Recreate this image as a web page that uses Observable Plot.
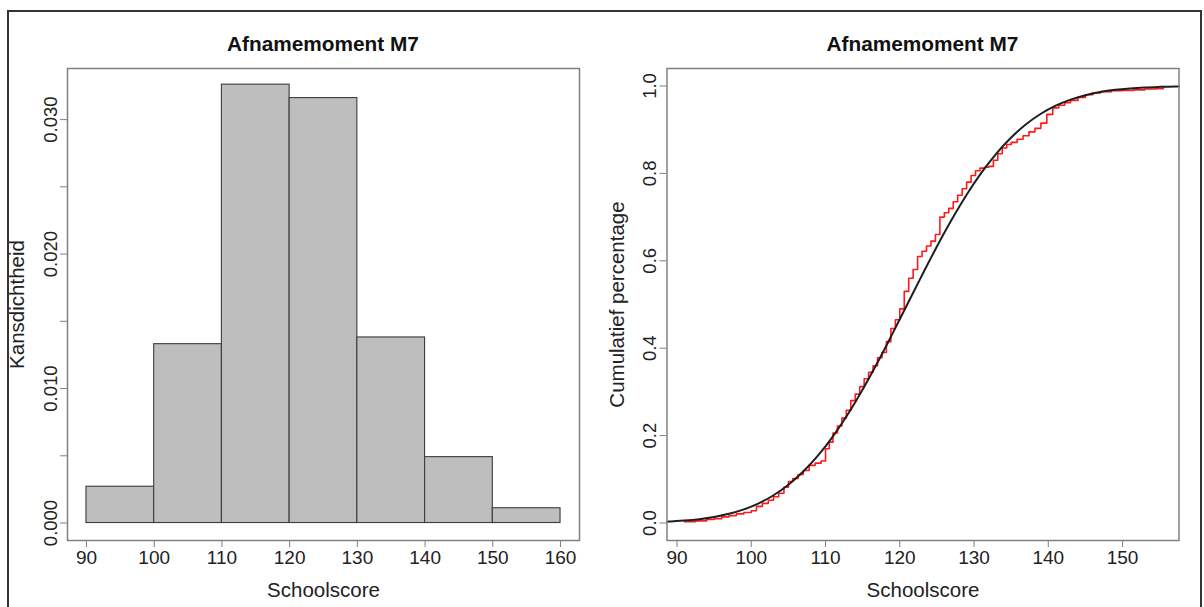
<!DOCTYPE html>
<html>
<head>
<meta charset="utf-8">
<script src="https://cdn.jsdelivr.net/npm/d3@7"></script>
<script src="https://cdn.jsdelivr.net/npm/@observablehq/plot@0.6"></script>
<style>
  body { margin: 0; background: #fff; font-family: "Liberation Sans", Arial, sans-serif; }
  #wrap { position: relative; width: 1204px; height: 607px; overflow: hidden; background: #fff; }
  #border { position: absolute; left: 7px; top: 10px; width: 1195px; height: 640px; border: 2px solid #333; box-sizing: border-box; }
  .title { position: absolute; top: 32px; line-height: 24px; font-weight: bold; font-size: 20.8px; color: #111; transform: translateX(-50%); white-space: nowrap; }
  .panel { position: absolute; top: 0; }
</style>
</head>
<body>
<div id="wrap">
  <div id="border"></div>
  <div class="panel" id="left"></div>
  <div class="panel" id="right"></div>
  <div class="title" id="t1"></div>
  <div class="title" id="t2"></div>
</div>
<script>
// ---- Data ----
const panelTitle = "Afnamemoment M7";
const xLabel = "Schoolscore";
const yLabelLeft = "Kansdichtheid";
const yLabelRight = "Cumulatief percentage";

// Histogram (density per bin of width 10)
const binStarts = [90, 100, 110, 120, 130, 140, 150];
const binEnds   = [100, 110, 120, 130, 140, 150, 160];
const densities = [0.0027, 0.0133, 0.0326, 0.0316, 0.0138, 0.0049, 0.0011];
const histXTicks = [90, 100, 110, 120, 130, 140, 150, 160];
const histYTicks = [0, 0.005, 0.010, 0.015, 0.020, 0.025, 0.030];

const ecdfX = [91, 92.5, 94, 95, 96, 97, 98, 99, 100, 100.7, 101.5, 102.3, 103, 103.7, 104.4, 105, 105.6, 106.3, 107, 107.8, 108.6, 109.4, 110, 110.5, 111, 111.6, 112.2, 112.8, 113.4, 114, 114.6, 115.2, 115.8, 116.4, 117, 117.6, 118.2, 118.8, 119.4, 120, 120.6, 121.2, 121.8, 122.4, 123, 123.6, 124.2, 124.8, 125.4, 126, 126.6, 127.2, 127.8, 128.4, 129, 129.6, 130.2, 130.8, 131.4, 132, 132.6, 133.2, 133.8, 134.4, 135, 135.8, 136.6, 137.4, 138.2, 139, 139.8, 140.6, 141.4, 142.2, 143, 144, 145, 146, 147, 148.5, 150, 151.5, 153, 154.5, 155.5];
const ecdfY = [0.003, 0.005, 0.008, 0.010, 0.014, 0.017, 0.021, 0.024, 0.028, 0.038, 0.045, 0.052, 0.060, 0.068, 0.082, 0.095, 0.102, 0.111, 0.120, 0.132, 0.137, 0.142, 0.170, 0.185, 0.206, 0.222, 0.240, 0.258, 0.280, 0.295, 0.312, 0.330, 0.345, 0.360, 0.378, 0.390, 0.415, 0.445, 0.465, 0.490, 0.530, 0.560, 0.580, 0.610, 0.622, 0.634, 0.645, 0.660, 0.700, 0.710, 0.720, 0.735, 0.750, 0.765, 0.780, 0.795, 0.806, 0.812, 0.814, 0.816, 0.830, 0.845, 0.858, 0.866, 0.871, 0.878, 0.886, 0.895, 0.903, 0.915, 0.935, 0.950, 0.956, 0.962, 0.967, 0.974, 0.980, 0.984, 0.987, 0.989, 0.990, 0.991, 0.993, 0.994, 0.997];

// Fitted cumulative curve (black)
const fitX = [88.7, 89, 91, 93, 95, 97, 99, 101, 103, 105, 107, 109, 111, 113, 115, 117, 119, 121, 123, 125, 127, 129, 131, 133, 135, 137, 139, 141, 143, 145, 147, 149, 151, 153, 155, 157, 157.6];
const fitY = [0.0031, 0.0034, 0.0055, 0.0088, 0.0138, 0.0210, 0.0312, 0.0450, 0.0636, 0.0876, 0.1178, 0.1546, 0.1984, 0.2489, 0.3057, 0.3673, 0.4328, 0.5000, 0.5672, 0.6327, 0.6943, 0.7511, 0.8016, 0.8454, 0.8822, 0.9124, 0.9364, 0.9550, 0.9688, 0.9790, 0.9862, 0.9912, 0.9945, 0.9967, 0.9980, 0.9989, 0.9990];
const cdfXTicks = [90, 100, 110, 120, 130, 140, 150];
const cdfYTicks = [0, 0.2, 0.4, 0.6, 0.8, 1.0];

// ---- Build tables ----
const bins = binStarts.map((s, i) => ({x1: s, x2: binEnds[i], d: densities[i]}));
const ecdf = ecdfX.map((x, i) => ({x, y: ecdfY[i]}));
const fit = fitX.map((x, i) => ({x, y: fitY[i]}));

const font = "Liberation Sans, Arial, sans-serif";
const frameColor = "#808080";
const textColor = "#222";

const left = Plot.plot({
  width: 600, height: 607,
  marginLeft: 67, marginRight: 21, marginTop: 68, marginBottom: 67,
  style: {fontFamily: font, background: "transparent", color: textColor},
  x: {domain: [87.2, 162.8]},
  y: {domain: [-0.0013, 0.0338]},
  marks: [
    Plot.rectY(bins, {x1: "x1", x2: "x2", y1: 0, y2: "d", fill: "#bebebe", stroke: "#3c3c3c", strokeWidth: 1.1}),
    Plot.frame({stroke: frameColor, strokeWidth: 1.5}),
    Plot.axisX({ticks: histXTicks, tickSize: 7, tickPadding: 3, fontSize: 19, stroke: frameColor, fill: textColor, label: null, tickFormat: d => String(d)}),
    Plot.axisY({ticks: histYTicks, tickSize: 7, tickPadding: 4, fontSize: 18.5, tickRotate: -90, stroke: frameColor, fill: textColor, label: null,
      tickFormat: d => (Math.round(d * 1000) % 10 === 0 ? d.toFixed(3) : "")}),
    Plot.text([xLabel], {frameAnchor: "bottom", dy: 50, fontSize: 20.5, fill: textColor, lineAnchor: "middle", textAnchor: "middle"}),
    Plot.text([yLabelLeft], {frameAnchor: "left", dx: -50, rotate: -90, fontSize: 20.5, fill: textColor, lineAnchor: "middle", textAnchor: "middle"})
  ]
});
document.getElementById("left").appendChild(left);

const right = Plot.plot({
  width: 604, height: 607,
  marginLeft: 66.5, marginRight: 25.5, marginTop: 68, marginBottom: 67,
  style: {fontFamily: font, background: "transparent", color: textColor},
  x: {domain: [88.65, 157.6]},
  y: {domain: [-0.04, 1.04]},
  marks: [
    Plot.line(ecdf, {x: "x", y: "y", curve: "step-after", stroke: "#ff1a1a", strokeWidth: 1.6}),
    Plot.line(fit, {x: "x", y: "y", curve: "monotone-x", stroke: "#1e1e1e", strokeWidth: 2}),
    Plot.frame({stroke: frameColor, strokeWidth: 1.5}),
    Plot.axisX({ticks: cdfXTicks, tickSize: 7, tickPadding: 3, fontSize: 19, stroke: frameColor, fill: textColor, label: null, tickFormat: d => String(d)}),
    Plot.axisY({ticks: cdfYTicks, tickSize: 7, tickPadding: 4, fontSize: 18.5, tickRotate: -90, stroke: frameColor, fill: textColor, label: null,
      tickFormat: d => d.toFixed(1)}),
    Plot.text([xLabel], {frameAnchor: "bottom", dy: 50, fontSize: 20.5, fill: textColor, lineAnchor: "middle", textAnchor: "middle"}),
    Plot.text([yLabelRight], {frameAnchor: "left", dx: -50, rotate: -90, fontSize: 20.5, fill: textColor, lineAnchor: "middle", textAnchor: "middle"})
  ]
});
const rp = document.getElementById("right");
rp.style.left = "600px";
rp.appendChild(right);

const t1 = document.getElementById("t1");
t1.textContent = panelTitle;
t1.style.left = ((67 + 579) / 2) + "px";
const t2 = document.getElementById("t2");
t2.textContent = panelTitle;
t2.style.left = (600 + (66.5 + 604 - 25.5) / 2) + "px";
</script>
</body>
</html>
